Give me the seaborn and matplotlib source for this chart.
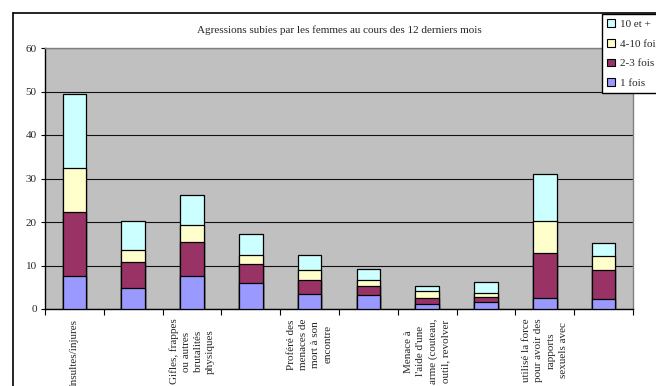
import numpy as np
import pandas as pd
import matplotlib
matplotlib.use("Agg")
import matplotlib.pyplot as plt
from matplotlib.patches import Patch
from matplotlib.lines import Line2D
import seaborn as sns

# Values (segment heights, in %)
positions = list(range(10))
tick_labels = [
    "Insultes/injures", "",
    "Gifles, frappes\nou autres\nbrutalités\nphysiques", "",
    "Proféré des\nmenaces de\nmort à son\nencontre", "",
    "Menace à\nl'aide d'une\narme (couteau,\noutil, revolver", "",
    "utilisé la force\npour avoir des\nrapports\nsexuels avec", "",
]
series_names = ["1 fois", "2-3 fois", "4-10 fois", "10 et +"]
une_fois = [7.5, 4.8, 7.5, 5.9, 3.4, 3.3, 1.1, 1.5, 2.6, 2.4]
deux_trois = [14.9, 5.9, 8.0, 4.4, 3.2, 2.1, 1.4, 1.3, 10.2, 6.6]
quatre_dix = [10.1, 2.9, 3.8, 2.0, 2.4, 1.3, 1.6, 0.8, 7.4, 3.1]
dix_plus = [16.9, 6.7, 7.0, 4.9, 3.3, 2.4, 1.1, 2.5, 10.8, 3.1]
colors = ["#9999FF", "#993366", "#FFFFCC", "#CCFFFF"]

df = pd.DataFrame({"pos": positions, "1 fois": une_fois, "2-3 fois": deux_trois,
                   "4-10 fois": quatre_dix, "10 et +": dix_plus})
cum = df[series_names].cumsum(axis=1)
cum["pos"] = df["pos"]

sns.set_style("white")
plt.rcParams["font.family"] = ["Liberation Serif", "DejaVu Serif"]

fig = plt.figure(figsize=(6.56, 3.86), dpi=100)
ax = fig.add_axes([45 / 656, 1 - 309 / 386, 588 / 656, 261 / 386])
ax.set_facecolor("#C0C0C0")

# stacked bars: draw cumulative totals from the top segment down
for name, col in zip(reversed(series_names), reversed(colors)):
    sns.barplot(data=cum, x="pos", y=name, color=col, saturation=1, width=0.4,
                edgecolor="black", linewidth=0.9, errorbar=None, ax=ax, zorder=3)

ax.set_ylim(0, 60)
ax.set_xlim(-0.5, 9.5)
ax.set_yticks(np.arange(0, 61, 10))
ax.tick_params(axis="y", direction="out", length=3, width=0.8, color="black",
               labelsize=8, pad=3, left=True)
ax.yaxis.grid(True, color="#111111", lw=0.8)
ax.set_axisbelow(True)

ax.set_xticks(np.arange(-0.5, 10, 1))
ax.set_xticklabels([])
ax.tick_params(axis="x", which="major", direction="out", length=4, width=0.8,
               color="black", bottom=True)
ax.set_xticks(positions, tick_labels, minor=True)
ax.tick_params(axis="x", which="minor", length=0, pad=7, labelsize=8)
for t in ax.get_xticklabels(minor=True):
    t.set_rotation(90)
    t.set_va("top")
    t.set_ha("center")
    t.set_multialignment("center")
    t.set_linespacing(1.45)

ax.set_xlabel("")
ax.set_ylabel("")
for s in ["left", "bottom"]:
    ax.spines[s].set_color("black")
    ax.spines[s].set_linewidth(1)
for s in ["top", "right"]:
    ax.spines[s].set_color("#808080")
    ax.spines[s].set_linewidth(1)

ax.set_title("Agressions subies par les femmes au cours des 12 derniers mois",
             fontsize=8, pad=11)

# chart-area border (left and top edges visible)
fig.add_artist(Line2D([13 / 656, 13 / 656], [0, 1 - 13 / 386], color="black", lw=1.2))
fig.add_artist(Line2D([13 / 656, 1], [1 - 13 / 386, 1 - 13 / 386], color="black", lw=1.2))

handles = [Patch(facecolor=c, edgecolor="black", lw=0.8, label=n)
           for n, c in zip(reversed(series_names), reversed(colors))]
leg = fig.legend(handles=handles, loc="upper left", bbox_to_anchor=(602 / 656, 1 - 14 / 386),
                 frameon=True, fancybox=False, framealpha=1, edgecolor="black",
                 fontsize=8, handlelength=0.7, handleheight=0.7, handletextpad=0.45,
                 labelspacing=0.9, borderpad=0.45, borderaxespad=0)
leg.get_frame().set_linewidth(1)

fig.savefig("out.png", dpi=100)
